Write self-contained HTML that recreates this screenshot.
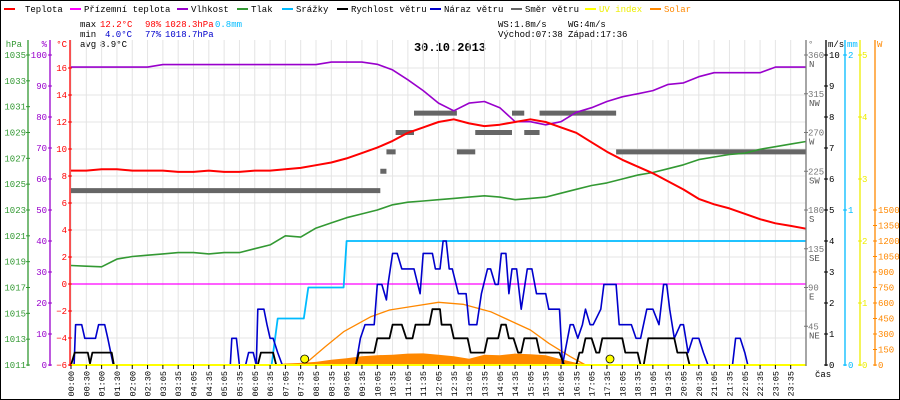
<!DOCTYPE html>
<html><head><meta charset="utf-8"><style>
html,body{margin:0;padding:0;background:#fff}
svg{display:block;font-family:"Liberation Mono",monospace;font-size:9px}
</style></head><body>
<svg id="c" width="900" height="400" viewBox="0 0 900 400" xmlns="http://www.w3.org/2000/svg">
<rect x="0.5" y="0.5" width="899" height="399" fill="#fff" stroke="#000"/>
<g font-size="9">
<g><rect x="4" y="8" width="11" height="2" fill="#f00"/><text x="25" y="12">Teplota</text></g>
<g><rect x="70" y="8" width="11" height="2" fill="#f0f"/><text x="84" y="12">Přízemní teplota</text></g>
<g><rect x="177" y="8" width="11" height="2" fill="#90c"/><text x="191" y="12">Vlhkost</text></g>
<g><rect x="237" y="8" width="11" height="2" fill="#393"/><text x="251" y="12">Tlak</text></g>
<g><rect x="282" y="8" width="11" height="2" fill="#0bf"/><text x="296" y="12">Srážky</text></g>
<g><rect x="337" y="8" width="11" height="2" fill="#000"/><text x="351" y="12">Rychlost větru</text></g>
<g><rect x="430" y="8" width="11" height="2" fill="#00c"/><text x="444" y="12">Náraz větru</text></g>
<g><rect x="511" y="8" width="11" height="2" fill="#666"/><text x="525" y="12">Směr větru</text></g>
<g><rect x="585" y="8" width="11" height="2" fill="#ff0"/><text x="599" y="12" fill="#ee0">UV index</text></g>
<g><rect x="650" y="8" width="11" height="2" fill="#f80"/><text x="664" y="12" fill="#f80">Solar</text></g>
</g>
<g>
<text x="80" y="27">max</text><text x="100" y="27" fill="#f00">12.2°C</text><text x="145" y="27" fill="#f00">98%</text><text x="165" y="27" fill="#f00">1028.3hPa</text><text x="215" y="27" fill="#0bf">0.8mm</text>
<text x="80" y="37">min</text><text x="105" y="37" fill="#00c">4.0°C</text><text x="145" y="37" fill="#00c">77%</text><text x="165" y="37" fill="#00c">1018.7hPa</text>
<text x="80" y="47">avg</text><text x="100" y="47">8.9°C</text>
<text x="498" y="27">WS:1.8m/s</text><text x="568" y="27">WG:4m/s</text>
<text x="498" y="37">Východ:07:38</text><text x="568" y="37">Západ:17:36</text>
</g>
<text x="450" y="51" text-anchor="middle" font-weight="bold" font-size="12">30.10.2013</text>
<g id="grid"></g>
<g id="series"></g>
<g id="axes"></g>
</svg>
<script>
const hours = [0,0.5,1,1.5,2,2.5,3,3.5,4,4.5,5,5.5,6,6.5,7,7.5,8,8.5,9,9.5,10,10.5,11,11.5,12,12.5,13,13.5,14,14.5,15,15.5,16,16.5,17,17.5,18,18.5,19,19.5,20,20.5,21,21.5,22,22.5,23,23.5,24];
const temperature = [8.4,8.4,8.5,8.5,8.4,8.4,8.4,8.3,8.3,8.4,8.3,8.3,8.4,8.4,8.5,8.6,8.8,9.0,9.3,9.7,10.1,10.6,11.2,11.6,12.0,12.2,11.9,11.7,11.8,12.0,12.2,12.0,11.6,11.2,10.5,9.8,9.2,8.7,8.2,7.6,7.0,6.3,5.9,5.6,5.2,4.8,4.5,4.3,4.1];
const feelsLike = [0,0,0,0,0,0,0,0,0,0,0,0,0,0,0,0,0,0,0,0,0,0,0,0,0,0,0,0,0,0,0,0,0,0,0,0,0,0,0,0,0,0,0,0,0,0,0,0,0];
const humidity = [96.1,96.1,96.1,96.1,96.1,96.1,96.9,96.9,96.9,96.9,96.9,96.9,96.9,96.9,96.9,96.9,96.9,97.7,97.7,97.7,97.0,95.2,92,88.5,84.5,82,84.5,85,83,78.5,78.5,77.5,78.5,81.5,83,85,86.5,87.5,88.5,90.5,91,93,94.3,94.3,94.3,94.3,96.1,96.1,96.1];
const pressure = [1018.7,1018.65,1018.6,1019.2,1019.4,1019.5,1019.6,1019.7,1019.7,1019.6,1019.7,1019.7,1020.0,1020.3,1021.0,1020.9,1021.6,1022.0,1022.4,1022.7,1023.0,1023.4,1023.6,1023.7,1023.8,1023.9,1024.0,1024.1,1024.0,1023.8,1023.9,1024.0,1024.3,1024.6,1024.9,1025.1,1025.4,1025.7,1025.9,1026.2,1026.5,1026.9,1027.1,1027.3,1027.4,1027.7,1027.9,1028.1,1028.3];
const uvIndex = [0,0,0,0,0,0,0,0,0,0,0,0,0,0,0,0,0,0,0,0,0,0,0,0,0,0,0,0,0,0,0,0,0,0,0,0,0,0,0,0,0,0,0,0,0,0,0,0,0];
const solar = [0,0,0,0,0,0,0,0,0,0,0,0,0,0,15,20,30,50,65,85,95,100,110,112,100,85,60,100,95,110,105,95,55,20,0,0,0,0,0,0,0,0,0,0,0,0,0,0,0];
const solarMaxT = [6.9,7.6,8.3,8.9,9.8,10.4,11.1,12.0,12.8,13.7,14.3,15.0,15.6,16.3,16.8];
const solarMaxV = [0,0,177,322,468,532,565,607,587,516,435,339,210,81,0];
const rainT = [0,6.55,6.75,7.6,7.75,8.9,9.0,24];
const rainV = [0,0,0.3,0.3,0.5,0.5,0.8,0.8];
const dirStart = [0,10.1,10.3,10.6,11.2,12.6,13.2,14.4,14.8,15.3,17.8];
const dirEnd   = [10.1,10.3,10.6,11.2,12.6,13.2,14.4,14.8,15.3,17.8,24];
const dirDeg   = [202.5,225,247.5,270,292.5,247.5,270,292.5,270,292.5,247.5];
const windT = [0,0.12,0.55,0.62,0.7,1.33,1.4,6.1,6.2,6.6,6.7,9.3,9.4,9.9,10.0,10.4,10.5,10.8,10.95,11.15,11.25,11.7,11.8,12.05,12.1,12.4,12.5,12.95,13.05,13.5,13.6,13.95,14.05,14.2,14.3,14.45,14.6,14.7,14.8,15.2,15.3,15.95,16.1,16.5,16.6,16.7,16.8,17.0,17.15,17.25,17.35,18.0,18.1,18.5,18.6,18.7,18.85,19.7,19.8,20.1,20.2,24];
const windV = [0,0.4,0.4,0.05,0.4,0.4,0,0,0.4,0.4,0,0,0.4,0.4,0.86,0.86,1.3,1.3,0.86,0.86,1.3,1.3,1.8,1.8,1.3,1.3,0.86,0.86,0.4,0.4,0.86,0.86,1.3,1.3,0.86,0.86,0.4,0.4,0.86,0.86,0.4,0.4,0,0,0.4,0.4,0.86,0.86,0.4,0.4,0.86,0.86,0.4,0.4,0,0,0.86,0.86,0.4,0.4,0,0];
const gustT = [0,0.1,0.15,0.35,0.45,0.8,0.9,1.1,1.2,1.38,5.2,5.25,5.4,5.5,5.7,5.8,5.95,6.05,6.1,6.3,6.4,6.5,6.6,6.75,6.9,9.3,9.45,9.6,9.9,10.0,10.15,10.3,10.35,10.5,10.65,10.8,11.2,11.4,11.5,11.8,11.9,12.05,12.15,12.25,12.35,12.45,12.65,12.9,13.0,13.25,13.4,13.6,13.7,13.85,13.95,14.05,14.2,14.3,14.4,14.55,14.7,14.9,15.05,15.2,15.5,15.6,15.95,16.05,16.3,16.4,16.55,16.7,16.8,16.95,17.05,17.3,17.4,17.8,17.9,18.3,18.45,18.6,18.8,19.0,19.2,19.35,19.45,19.55,19.7,19.9,20.0,20.15,20.3,20.5,20.65,20.8,21.6,21.7,21.85,22.0,22.1,24];
const gustV = [0,0,1.3,1.3,0.86,0.86,1.3,1.3,0.86,0,0,0.86,0.86,0,0,0.4,0.4,0,1.8,1.8,1.3,0.86,0.86,0.4,0,0,0.86,1.3,1.3,2.6,2.6,2.1,2.6,3.6,3.6,3.1,3.1,2.3,3.6,3.6,3.1,3.1,4.0,4.0,3.1,3.1,2.3,2.3,1.3,1.3,2.3,3.1,3.1,2.6,2.6,3.6,3.6,2.3,3.1,3.1,1.8,3.1,3.1,2.3,2.3,1.8,1.8,0,1.3,1.3,0.86,1.3,1.8,1.3,1.3,1.8,2.6,2.6,1.3,1.3,0.86,0.86,1.8,1.8,1.3,2.6,2.6,1.8,0.86,1.3,1.3,0.4,0.86,0.86,0.4,0,0,0.86,0.86,0.4,0,0];
const sunMarkers = [7.63,17.6];
const xLabels = ["00:00","00:30","01:00","01:30","02:00","02:30","03:05","03:35","04:05","04:35","05:05","05:35","06:05","06:35","07:05","07:35","08:05","08:35","09:05","09:35","10:05","10:35","11:05","11:35","12:05","12:35","13:05","13:35","14:05","14:35","15:05","15:35","16:05","16:35","17:05","17:35","18:05","18:35","19:05","19:35","20:05","20:35","21:05","21:35","22:05","22:35","23:05","23:35"];
const hpaTicks = [1011,1013,1015,1017,1019,1021,1023,1025,1027,1029,1031,1033,1035];
const humTicks = [0,10,20,30,40,50,60,70,80,90,100];
const tempTicks = [-6,-4,-2,0,2,4,6,8,10,12,14,16];
const dirTicks = [45,90,135,180,225,270,315,360];
const dirNames = ["NE","E","SE","S","SW","W","NW","N"];
const msTicks = [0,1,2,3,4,5,6,7,8,9,10];
const mmTicks = [0,1,2];
const uvTicks = [0,1,2,3,4,5];
const wTicks = [0,150,300,450,600,750,900,1050,1200,1350,1500];

const NS="http://www.w3.org/2000/svg";
const X=h=>71+h*30.625;
const Yt=t=>365-(t+6)*13.5;
const Yp=p=>365-(p-1011)*12.917;
const Yh=v=>365-v*3.1;
const Yd=d=>365-d*0.8611;
const Yw=v=>365-v*31;
const Yr=v=>365-v*155;
const Yu=v=>365-v*62;
const Ys=v=>365-v*0.10333;
function mk(tag,attrs,parent){const e=document.createElementNS(NS,tag);for(const k in attrs)e.setAttribute(k,attrs[k]);parent.appendChild(e);return e;}
const G=document.getElementById('grid'),S=document.getElementById('series'),A=document.getElementById('axes');

// grid
xLabels.forEach((l,i)=>{const x=X(i*0.5);
  const ln=mk('line',{x1:x,x2:x,y1:40,y2:365,stroke:'#e4e4e4'},G);
  
  
  mk('line',{x1:x,x2:x,y1:365,y2:369,stroke:'#000'},A);
  const t=mk('text',{x:0,y:0,'text-anchor':'end',transform:`translate(${x+3},371) rotate(-90)`,'font-size':'8.5'},A);
  t.textContent=l;
  
  
});
tempTicks.forEach(v=>{const y=Yt(v);
  const ln=mk('line',{x1:71,x2:806,y1:y,y2:y,stroke:'#e4e4e4'},G);
  
  
});

function line(xs,ys,color,w,name){
  const pts=xs.map((x,i)=>x.toFixed(1)+','+ys[i].toFixed(1)).join(' ');
  const p=mk('polyline',{points:pts,fill:'none',stroke:color,'stroke-width':w,'stroke-linejoin':'round'},S);
  
  
  return p;
}
// solar area
{let d='M'+X(hours[0])+','+Ys(0);hours.forEach((h,i)=>{d+=' L'+X(h).toFixed(1)+','+Ys(solar[i]).toFixed(1);});d+=' L'+X(24)+','+Ys(0)+' Z';
 const p=mk('path',{d:d,fill:'#f80'},S);
 
 }
line(solarMaxT.map(X),solarMaxV.map(Ys),'#f80',1.3,'solar-max-line');
// wind direction
dirDeg.forEach((d,i)=>{
  const r=mk('rect',{x:X(dirStart[i]),y:Yd(d)-2.5,width:X(dirEnd[i])-X(dirStart[i]),height:5,fill:'#666'},S);
  
  
});
line(hours.map(X),pressure.map(Yp),'#393',1.6,'pressure-line');
line(hours.map(X),humidity.map(Yh),'#90c',1.6,'humidity-line');
line(hours.map(X),temperature.map(Yt),'#f00',2,'temperature-line');
line(hours.map(X),feelsLike.map(Yt),'#f0f',1.2,'feels-like-line');
line(rainT.map(X),rainV.map(Yr),'#0bf',1.8,'rain-line');
line(gustT.map(X),gustV.map(Yw),'#00c',1.6,'wind-gust-line');
line(windT.map(X),windV.map(Yw),'#000',1.8,'wind-speed-line');
line(hours.map(X),uvIndex.map(Yu),'#ff0',2,'uv-index-line');
sunMarkers.forEach(h=>{const c=mk('circle',{cx:X(h),cy:359,r:4,fill:'#ff0',stroke:'#000','stroke-width':0.8},S);
  
  });

// axes
function axis(x,color,ticks,yf,labelSide,labelX,unit,unitX,name,fmt){
  const g=mk('g',{},A);
  
  
  mk('line',{x1:x,x2:x,y1:40,y2:366,stroke:color,'stroke-width':1.3},g);
  ticks.forEach((v,i)=>{const y=yf(v);mk('line',{x1:x-2,x2:x+2,y1:y,y2:y,stroke:color},g);
    const t=mk('text',{x:labelX,y:y+3,fill:color,'text-anchor':labelSide},g);t.textContent=fmt?fmt(v,i):v;});
  const u=mk('text',{x:unitX,y:47,fill:color,'text-anchor':labelSide},g);u.textContent=unit;
}
axis(28,'#393',hpaTicks,Yp,'end',26,'hPa',22,'hpa-axis');
axis(50,'#90c',humTicks,Yh,'end',47,'%',47,'humidity-axis');
axis(70,'#f00',tempTicks,Yt,'end',67,'°C',67,'temperature-axis',v=>v<0?'−'+(-v):v);
axis(806,'#777',dirTicks,Yd,'start',808,'°',808,'direction-axis');
dirTicks.forEach((v,i)=>{const t=mk('text',{x:809,y:Yd(v)+12,fill:'#555'},A);t.textContent=dirNames[i];
  
  });
axis(826,'#000',msTicks,Yw,'start',829,'m/s',828,'wind-speed-axis');
axis(845,'#0bf',mmTicks,Yr,'start',848,'mm',847,'rain-axis');
axis(860,'#ee0',uvTicks,Yu,'start',862,'',862,'uv-axis');
{const g=mk('g',{},A);
 
 
 mk('line',{x1:875,x2:875,y1:40,y2:366,stroke:'#f80','stroke-width':1.3},g);
 wTicks.forEach(v=>{const y=Ys(v);mk('line',{x1:873,x2:877,y1:y,y2:y,stroke:'#f80'},g);const t=mk('text',{x:878,y:y+3,fill:'#f80'},g);t.textContent=v;});
 const u=mk('text',{x:877,y:47,fill:'#f80'},g);u.textContent='W';}
{const t=mk('text',{x:815,y:377},A);t.textContent='čas';
 
 }
</script>
</body></html>
